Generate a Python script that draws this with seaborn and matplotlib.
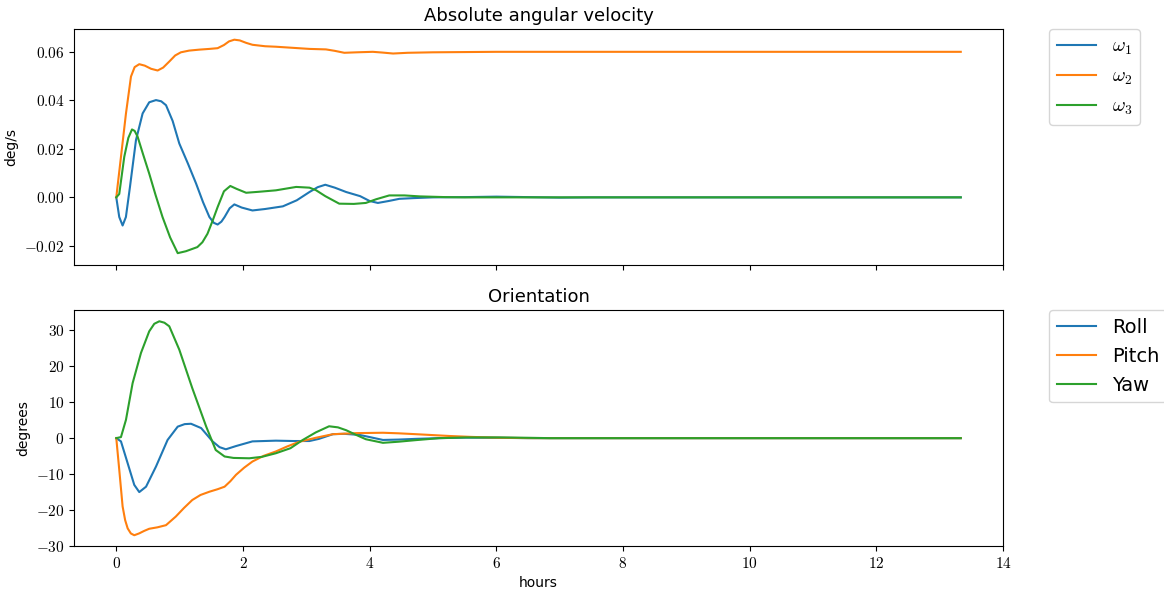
import numpy as np
import pandas as pd
import matplotlib
matplotlib.use('Agg')
import matplotlib.pyplot as plt
import seaborn as sns
from matplotlib.ticker import FuncFormatter

# Absolute angular velocity (deg/s)
w1_t = [0.0, 0.047, 0.1, 0.152, 0.216, 0.311, 0.416, 0.52, 0.627, 0.71, 0.785, 0.89, 0.995,
        1.13, 1.26, 1.37, 1.47, 1.54, 1.6, 1.66, 1.71, 1.79, 1.864, 1.98, 2.15, 2.35, 2.63,
        2.85, 3.05, 3.18, 3.3, 3.45, 3.63, 3.85, 4.0, 4.13, 4.3, 4.47, 4.7, 5.0, 5.5, 6.0,
        6.5, 7.0, 7.5, 8.0, 9.0, 10.0, 11.0, 12.0, 13.333]
w1 = [0.0, -0.0081, -0.0116, -0.0081, 0.0043, 0.0236, 0.0346, 0.0392, 0.0401, 0.0396,
      0.038, 0.0315, 0.0222, 0.014, 0.0057, -0.002, -0.0081, -0.0105, -0.0112, -0.01,
      -0.0081, -0.0045, -0.0029, -0.0042, -0.0054, -0.0048, -0.0037, -0.0012, 0.0022,
      0.0042, 0.0052, 0.004, 0.0022, 0.0005, -0.0015, -0.0023, -0.0015, -0.0006, -0.0003,
      0.0, 0.0001, 0.0003, 0.0001, -0.0001, 0.0, 0.0, 0.0, 0.0, 0.0, 0.0, 0.0]

w2_t = [0.0, 0.074, 0.153, 0.232, 0.29, 0.363, 0.45, 0.55, 0.653, 0.74, 0.837, 0.93, 1.02,
        1.15, 1.31, 1.47, 1.6, 1.7, 1.78, 1.864, 1.95, 2.05, 2.15, 2.35, 2.52, 3.05, 3.31,
        3.45, 3.6, 3.8, 4.05, 4.2, 4.37, 4.6, 5.0, 5.5, 6.0, 7.0, 8.0, 9.0, 10.0, 11.0,
        12.0, 13.333]
w2 = [0.0, 0.0167, 0.0346, 0.0498, 0.0537, 0.0549, 0.0543, 0.053, 0.0523, 0.0535, 0.056,
      0.0585, 0.0598, 0.0605, 0.0609, 0.0612, 0.0615, 0.0628, 0.0643, 0.065, 0.0647,
      0.0637, 0.0629, 0.0623, 0.0621, 0.0612, 0.061, 0.0604, 0.0596, 0.0598, 0.06, 0.0597,
      0.0593, 0.0596, 0.0598, 0.0599, 0.06, 0.06, 0.06, 0.06, 0.06, 0.06, 0.06, 0.06]

w3_t = [0.0, 0.047, 0.126, 0.19, 0.248, 0.29, 0.337, 0.42, 0.52, 0.62, 0.73, 0.85, 0.97,
        1.1, 1.28, 1.36, 1.44, 1.52, 1.6, 1.7, 1.8, 1.9, 2.05, 2.25, 2.52, 2.84, 3.05,
        3.15, 3.3, 3.52, 3.75, 3.94, 4.1, 4.31, 4.55, 4.79, 5.2, 5.5, 6.0, 7.0, 8.0, 9.0,
        10.0, 11.0, 12.0, 13.333]
w3 = [0.0, 0.0014, 0.0167, 0.0245, 0.028, 0.0274, 0.025, 0.018, 0.0098, 0.001, -0.0081,
      -0.0165, -0.023, -0.0222, -0.0205, -0.0185, -0.015, -0.0097, -0.004, 0.0025, 0.0047,
      0.0035, 0.0019, 0.0023, 0.0029, 0.0043, 0.004, 0.003, 0.0005, -0.0026, -0.0027,
      -0.0023, -0.0008, 0.0008, 0.0008, 0.0004, 0.0001, 0.0, 0.0, 0.0, 0.0, 0.0, 0.0, 0.0,
      0.0, 0.0]

# Orientation (degrees)
roll_t = [0.0, 0.074, 0.18, 0.284, 0.363, 0.47, 0.627, 0.81, 0.97, 1.08, 1.18, 1.34, 1.52,
          1.63, 1.73, 1.89, 2.15, 2.52, 2.8, 3.05, 3.2, 3.42, 3.6, 3.84, 4.0, 4.21, 4.45,
          4.73, 5.1, 5.52, 6.0, 6.5, 7.0, 8.0, 9.0, 10.0, 11.0, 12.0, 13.333]
roll = [0.0, -0.9, -7.0, -13.0, -15.0, -13.5, -7.9, -0.5, 3.2, 3.9, 4.0, 2.8, -0.9, -2.5,
        -3.1, -2.2, -0.9, -0.7, -0.8, -0.8, -0.2, 1.1, 1.2, 0.9, 0.3, -0.5, -0.4, -0.2, 0.0,
        0.15, 0.1, 0.0, 0.0, 0.0, 0.0, 0.0, 0.0, 0.0, 0.0]

pitch_t = [0.0, 0.047, 0.1, 0.14, 0.18, 0.23, 0.284, 0.36, 0.44, 0.52, 0.65, 0.785, 0.94,
           1.07, 1.2, 1.33, 1.47, 1.6, 1.71, 1.8, 1.89, 2.02, 2.15, 2.33, 2.52, 2.7, 2.89,
           3.15, 3.42, 3.8, 4.21, 4.45, 4.73, 5.26, 5.6, 6.05, 6.6, 7.0, 8.0, 9.0, 10.0,
           11.0, 12.0, 13.333]
pitch = [0.0, -8.8, -19.0, -22.8, -25.1, -26.5, -27.0, -26.5, -25.8, -25.2, -24.8, -24.2,
         -21.8, -19.4, -17.2, -15.8, -14.9, -14.2, -13.5, -12.0, -10.2, -8.2, -6.5, -4.9,
         -3.7, -2.3, -1.0, 0.1, 1.1, 1.4, 1.5, 1.35, 1.1, 0.6, 0.35, 0.1, 0.0, 0.0, 0.0,
         0.0, 0.0, 0.0, 0.0, 0.0]

yaw_t = [0.0, 0.074, 0.153, 0.258, 0.39, 0.52, 0.6, 0.68, 0.76, 0.837, 0.995, 1.2, 1.42,
         1.57, 1.71, 1.85, 2.1, 2.3, 2.52, 2.75, 2.94, 3.15, 3.36, 3.5, 3.63, 3.8, 3.94,
         4.21, 4.45, 4.73, 5.1, 5.52, 6.05, 6.5, 6.84, 8.0, 9.0, 10.0, 11.0, 12.0, 13.333]
yaw = [0.0, 0.3, 5.1, 15.3, 23.7, 29.7, 31.8, 32.5, 32.1, 31.1, 24.6, 13.9, 3.2, -3.3,
       -5.1, -5.5, -5.6, -5.2, -4.2, -2.8, -0.55, 1.6, 3.3, 3.0, 2.2, 0.8, -0.3, -1.3,
       -1.0, -0.55, 0.0, 0.2, 0.2, 0.1, 0.0, 0.0, 0.0, 0.0, 0.0, 0.0, 0.0]

colors = ['#1f77b4', '#ff7f0e', '#2ca02c']
omega_labels = [r'$\omega_1$', r'$\omega_2$', r'$\omega_3$']
angle_labels = ['Roll', 'Pitch', 'Yaw']

# Computer Modern for the math bits (ticks and omega labels)
plt.rcParams['mathtext.fontset'] = 'cm'
plt.rcParams['font.family'] = 'DejaVu Sans'

fig, (ax1, ax2) = plt.subplots(2, 1, sharex=True, figsize=(11.64, 5.91), dpi=100)
fig.subplots_adjust(left=0.0636, right=0.8617, bottom=0.0761, top=0.9509, hspace=0.195)

# Angular velocity
for t, w, lab, c in zip([w1_t, w2_t, w3_t], [w1, w2, w3], omega_labels, colors):
    sns.lineplot(x=t, y=w, ax=ax1, color=c, label=lab, linewidth=1.5, sort=False, estimator=None)
ax1.set_title('Absolute angular velocity', fontsize=13)
ax1.set_ylabel('deg/s', fontsize=10)
ax1.set_ylim(-0.0277, 0.0694)
ax1.legend(bbox_to_anchor=(1.05, 1), loc=2, borderaxespad=0., prop={'size': 14})

# Orientation
for t, a, lab, c in zip([roll_t, pitch_t, yaw_t], [roll, pitch, yaw], angle_labels, colors):
    sns.lineplot(x=t, y=a, ax=ax2, color=c, label=lab, linewidth=1.5, sort=False, estimator=None)
ax2.set_title('Orientation', fontsize=13)
ax2.set_ylabel('degrees', fontsize=10)
ax2.set_xlabel('hours', fontsize=10)
ax2.set_ylim(-30.0, 35.5)
ax2.set_xlim(-0.667, 14.0)
ax2.legend(bbox_to_anchor=(1.05, 1), loc=2, borderaxespad=0., prop={'size': 14})

# Tick labels in math mode so they come out in Computer Modern
ax1.yaxis.set_major_formatter(FuncFormatter(lambda v, p: '$%.2f$' % (round(v, 4) + 0.0)))
ax2.yaxis.set_major_formatter(FuncFormatter(lambda v, p: '$%d$' % int(round(v))))
ax2.xaxis.set_major_formatter(FuncFormatter(lambda v, p: '$%d$' % int(round(v))))
ax2.set_xticks(np.arange(0, 15, 2))
for ax in (ax1, ax2):
    ax.tick_params(labelsize=11)

fig.savefig('out.png', dpi=100)
